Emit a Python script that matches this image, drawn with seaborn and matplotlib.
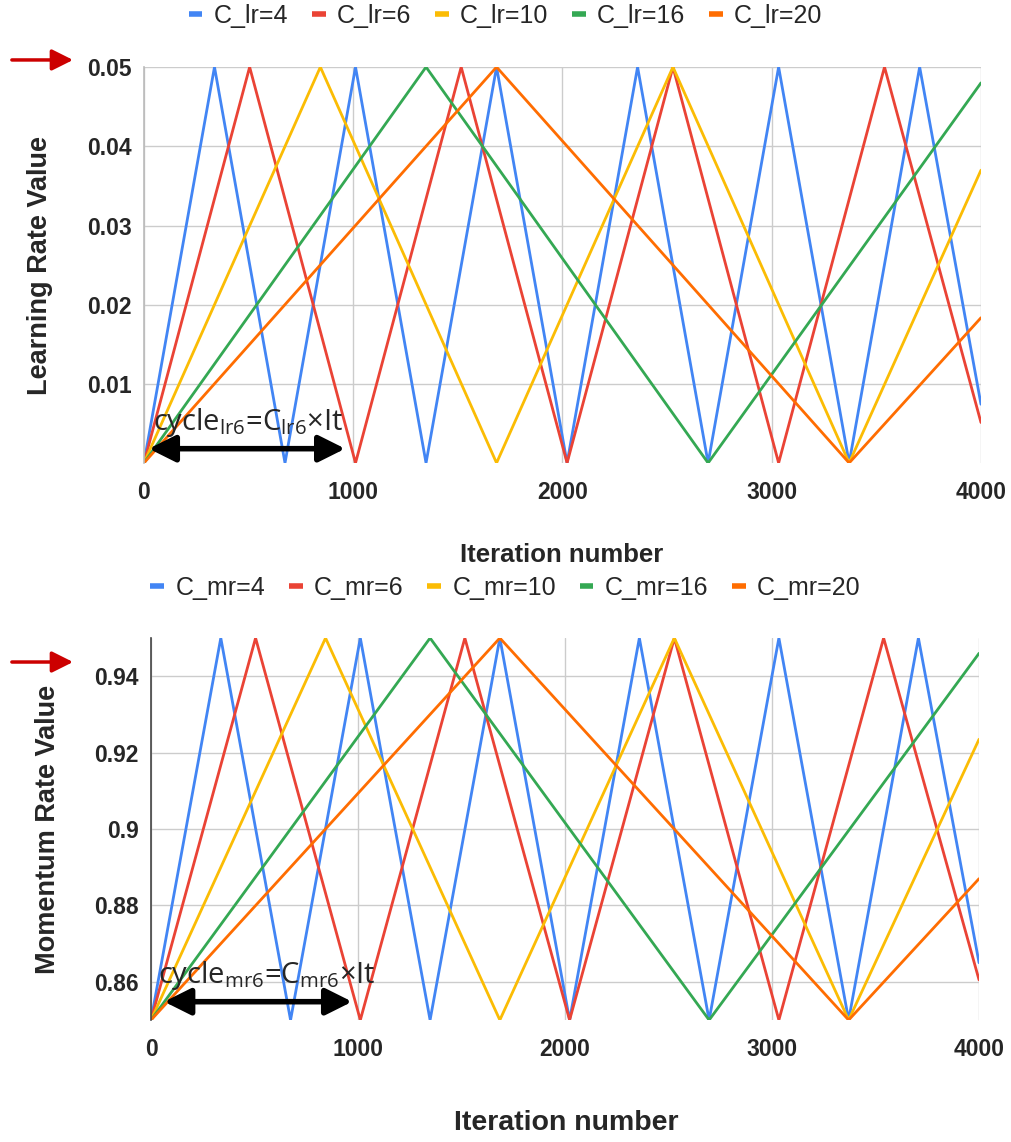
import pandas as pd
import matplotlib.pyplot as plt
import seaborn as sns
from matplotlib.lines import Line2D

# Cycle settings and colours (Google Sheets palette)
cycles = [4, 6, 10, 16, 20]
colors = ["#4285F4", "#EA4335", "#FBBC04", "#34A853", "#FF6D01"]

# Vertices of each triangular schedule
x_c4 = [0, 337, 674, 1011, 1348, 1685, 2022, 2359, 2696, 3033, 3370, 3707, 4000]
x_c6 = [0, 505, 1011, 1516, 2022, 2528, 3033, 3539, 4000]
x_c10 = [0, 843, 1685, 2528, 3370, 4000]
x_c16 = [0, 1348, 2696, 4000]
x_c20 = [0, 1685, 3370, 4000]

lr_c4 = [0.0001, 0.05, 0.0001, 0.05, 0.0001, 0.05, 0.0001, 0.05, 0.0001, 0.05, 0.0001, 0.05, 0.0075]
lr_c6 = [0.0001, 0.05, 0.0001, 0.05, 0.0001, 0.05, 0.0001, 0.05, 0.0052]
lr_c10 = [0.0001, 0.05, 0.0001, 0.05, 0.0001, 0.037]
lr_c16 = [0.0001, 0.05, 0.0001, 0.048]
lr_c20 = [0.0001, 0.05, 0.0001, 0.0184]

mr_c4 = [0.85, 0.95, 0.85, 0.95, 0.85, 0.95, 0.85, 0.95, 0.85, 0.95, 0.85, 0.95, 0.865]
mr_c6 = [0.85, 0.95, 0.85, 0.95, 0.85, 0.95, 0.85, 0.95, 0.8605]
mr_c10 = [0.85, 0.95, 0.85, 0.95, 0.85, 0.9235]
mr_c16 = [0.85, 0.95, 0.85, 0.946]
mr_c20 = [0.85, 0.95, 0.85, 0.887]

x_all = [x_c4, x_c6, x_c10, x_c16, x_c20]
lr_all = [lr_c4, lr_c6, lr_c10, lr_c16, lr_c20]
mr_all = [mr_c4, mr_c6, mr_c10, mr_c16, mr_c20]

lr_ticks = [0.01, 0.02, 0.03, 0.04, 0.05]
lr_ticklabels = ["0.01", "0.02", "0.03", "0.04", "0.05"]
mr_ticks = [0.86, 0.88, 0.90, 0.92, 0.94]
mr_ticklabels = ["0.86", "0.88", "0.9", "0.92", "0.94"]
x_ticks = [0, 1000, 2000, 3000, 4000]


def long_frame(ys, prefix):
    rows = []
    for c, xs, vals in zip(cycles, x_all, ys):
        for xv, yv in zip(xs, vals):
            rows.append({"iter": xv, "value": yv, "series": f"{prefix}={c}"})
    return pd.DataFrame(rows)


sns.set_style("white")
plt.rcParams["font.family"] = ["Liberation Sans", "DejaVu Sans"]

fig = plt.figure(figsize=(10.11, 11.42), dpi=100)
ax1 = fig.add_axes([0.1424, 0.5946, 0.8279, 0.3467])
ax2 = fig.add_axes([0.1494, 0.1068, 0.8190, 0.3345])


def draw(ax, df, prefix, ylim, ticks, ticklabels, ylabel, spine_color, legend_y):
    names = [f"{prefix}={c}" for c in cycles]
    pal = dict(zip(names, colors))
    sns.lineplot(data=df, x="iter", y="value", hue="series", palette=pal,
                 linewidth=2.0, estimator=None, sort=False, legend=False, ax=ax)
    ax.set_xlim(0, 4000)
    ax.set_ylim(*ylim)
    ax.set_xticks(x_ticks)
    ax.set_xticklabels([str(t) for t in x_ticks], fontweight="bold", fontsize=16.5)
    ax.set_yticks(ticks)
    ax.set_yticklabels(ticklabels, fontweight="bold", fontsize=16.5)
    ax.tick_params(axis="x", length=0, pad=13)
    ax.tick_params(axis="y", length=0, pad=9)
    ax.grid(True, color="#cccccc", linewidth=1)
    ax.set_axisbelow(True)
    for s in ["top", "right", "bottom"]:
        ax.spines[s].set_visible(False)
    ax.spines["left"].set_color(spine_color)
    ax.spines["left"].set_linewidth(1.2)
    ax.set_xlabel("")
    ax.set_ylabel(ylabel, fontweight="bold", fontsize=19.5, labelpad=24)
    handles = [Line2D([0], [0], color=c, lw=4, solid_capstyle="butt") for c in colors]
    fig.legend(handles, names, loc="center", bbox_to_anchor=(0.5, legend_y), ncol=5,
               frameon=False, fontsize=18, handlelength=0.55, handletextpad=0.45,
               columnspacing=0.95)


draw(ax1, long_frame(lr_all, "C_lr"), "C_lr", (0.0001, 0.05), lr_ticks, lr_ticklabels,
     "Learning Rate Value", "#bbbbbb", 0.986)
draw(ax2, long_frame(mr_all, "C_mr"), "C_mr", (0.85, 0.95), mr_ticks, mr_ticklabels,
     "Momentum Rate Value", "#444444", 0.485)

fig.text(0.556, 0.514, "Iteration number", ha="center", va="center",
         fontweight="bold", fontsize=18.5)
fig.text(0.560, 0.0165, "Iteration number", ha="center", va="center",
         fontweight="bold", fontsize=20.5)

# Red arrows marking the maximum
for ya in [0.9475, 0.4203]:
    fig.add_artist(plt.Annotation("", xy=(0.075, ya), xytext=(0.009, ya),
                                  xycoords="figure fraction", textcoords="figure fraction",
                                  arrowprops=dict(arrowstyle="-|>", color="#CC0000",
                                                  lw=2.5, mutation_scale=32)))

# Cycle annotation (double arrow + label)
plt.rcParams["mathtext.fontset"] = "custom"
plt.rcParams["mathtext.rm"] = "Open Sans"
ax1.annotate("", xy=(975, 0.0019), xytext=(10, 0.0019),
             arrowprops=dict(arrowstyle="<|-|>", color="black", lw=4, mutation_scale=40))
ax1.text(45, 0.0042, r"cycle$_{\mathrm{lr6}}$=C$_{\mathrm{lr6}}$×It", fontsize=21,
         family=["Open Sans", "DejaVu Sans"], va="baseline")
ax2.annotate("", xy=(985, 0.8548), xytext=(50, 0.8548),
             arrowprops=dict(arrowstyle="<|-|>", color="black", lw=4, mutation_scale=40))
ax2.text(35, 0.8597, r"cycle$_{\mathrm{mr6}}$=C$_{\mathrm{mr6}}$×It", fontsize=21,
         family=["Open Sans", "DejaVu Sans"], va="baseline")

fig.savefig("out.png", dpi=100)
